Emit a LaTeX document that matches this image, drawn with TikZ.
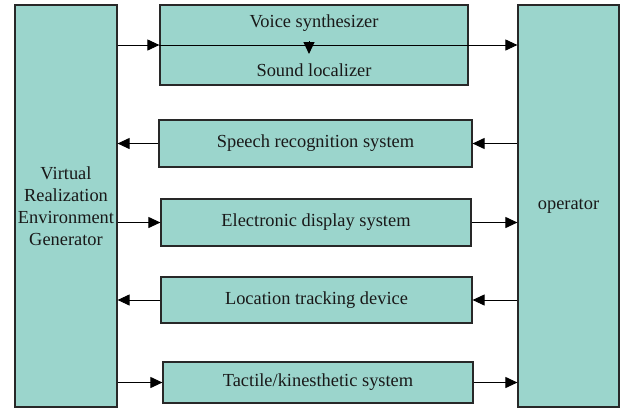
\documentclass[tikz,border=0pt]{standalone}
\usepackage{fontspec}
\setmainfont{Liberation Serif}
\usetikzlibrary{arrows.meta}
\definecolor{boxfill}{RGB}{155,213,204}
\definecolor{boxline}{RGB}{40,40,40}
\tikzset{
  blk/.style={draw=boxline, line width=0.6pt, fill=boxfill, inner sep=0pt, font={\rmfamily\fontsize{9.2}{11}\selectfont}, text=black!90},
  lbl/.style={inner sep=0pt, font={\rmfamily\fontsize{9.2}{11}\selectfont}, text=black!90},
  conn/.style={draw=black, line width=0.5pt, -{Triangle[length=6pt,width=5.5pt]}},
  plain/.style={draw=black, line width=0.5pt}
}
\begin{document}
\begin{tikzpicture}[x=0.5pt,y=-0.5pt]
\useasboundingbox (0,0) rectangle (620,408);
% side blocks
\node[blk, minimum width=51pt, minimum height=201pt, align=center] (L) at (66,206)
  {Virtual\\Realization\\Environment\\Generator};
\node[blk, minimum width=50.5pt, minimum height=201pt] (R) at (568.5,206) {operator};
% top block
\node[blk, minimum width=154pt, minimum height=40pt] (T) at (314,45) {};
\node[lbl] (vs) at (314,23) {Voice synthesizer};
\node[lbl] (sl) at (314,70) {Sound localizer};
% middle blocks
\node[blk, minimum width=156.5pt, minimum height=23.5pt] (S) at (315.5,143.5) {Speech recognition system};
\node[blk, minimum width=155pt, minimum height=23.5pt] (E) at (316,222.5) {Electronic display system};
\node[blk, minimum width=155.5pt, minimum height=23pt] (Lo) at (316.5,300) {Location tracking device};
\node[blk, minimum width=155pt, minimum height=20.5pt] (Ta) at (318,382.5) {Tactile/kinesthetic system};
% connectors
\draw[conn] (L.east |- T.west) -- (T.west);
\draw[plain] (T.west) -- (T.east);
\draw[conn] (T.east) -- (R.west |- T.east);
\coordinate (va) at (309,41);
\coordinate (vb) at (309,54);
\draw[conn] (va) -- (vb);
\draw[conn] (R.west |- S.east) -- (S.east);
\draw[conn] (S.west) -- (L.east |- S.west);
\draw[conn] (L.east |- E.west) -- (E.west);
\draw[conn] (E.east) -- (R.west |- E.east);
\draw[conn] (R.west |- Lo.east) -- (Lo.east);
\draw[conn] (Lo.west) -- (L.east |- Lo.west);
\draw[conn] (L.east |- Ta.west) -- (Ta.west);
\draw[conn] (Ta.east) -- (R.west |- Ta.east);
\end{tikzpicture}
\end{document}
